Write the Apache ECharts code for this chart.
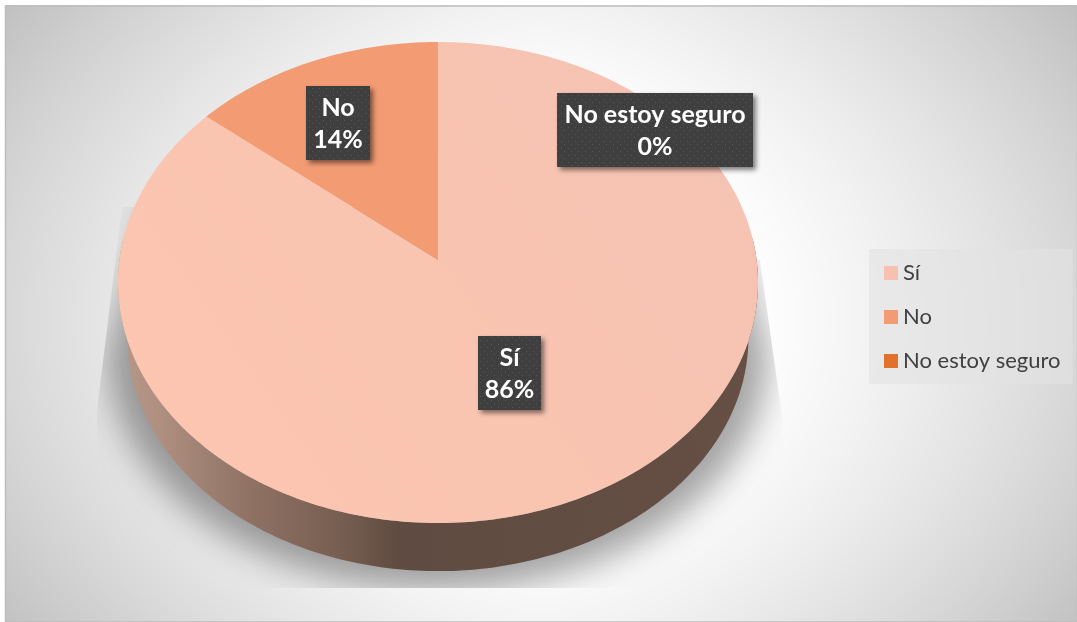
<!DOCTYPE html>
<html>
<head>
<meta charset="utf-8">
<style>html,body{margin:0;padding:0;background:#fff}#chart{width:1077px;height:622px}</style>
<script src="https://cdn.jsdelivr.net/npm/echarts@6/dist/echarts.min.js"></script>
</head>
<body>
<div id="chart"></div>
<script>
// Answers to the survey question
const categories = ['Sí', 'No', 'No estoy seguro'];
const shares = [86, 14, 0];
const sliceColors = ['#f6c1af', '#f39b73', '#e0722c'];

// Tilted-disc projection: a unit circle seen in perspective
const disc = { cx: 438, cy: 260, a: 318.6, b: 238.4, k: -0.0936, rimDrop: 56, rimScale: 0.97 };
const labelBoxes = [
  { cx: 509.5, cy: 373, w: 63, h: 74 },
  { cx: 338, cy: 123, w: 64, h: 74 },
  { cx: 655, cy: 130, w: 196, h: 74 }
];

const total = shares.reduce((s, v) => s + v, 0);

function project(deg) {
  const t = deg * Math.PI / 180;
  const u = Math.sin(t), v = -Math.cos(t), w = 1 + disc.k * v;
  return [disc.a * u / w, disc.b * v / w];
}
function topPoint(deg) {
  const p = project(deg);
  return [disc.cx + p[0], disc.cy + p[1]];
}
function rimPoint(deg) {
  const p = project(deg);
  return [disc.cx + disc.rimScale * p[0], disc.cy + disc.rimDrop + disc.rimScale * p[1]];
}
function arcAngles(from, to) {
  const out = [];
  for (let d = from; d < to; d += 1) out.push(d);
  out.push(to);
  return out;
}

// Fine dot texture used behind the data labels
function dotTexture() {
  const c = document.createElement('canvas');
  c.width = 7; c.height = 7;
  const g = c.getContext('2d');
  g.fillStyle = '#3f3f3f'; g.fillRect(0, 0, 7, 7);
  g.fillStyle = '#565656'; g.fillRect(1, 1, 1, 1); g.fillRect(4, 4, 1, 1);
  return c;
}
const dots = { image: dotTexture(), repeat: 'repeat' };

// Panel backdrop: a soft centre glow, plus the shadow the disc casts on it
function panelBackdrop() {
  const W = 1077, H = 622;
  const c = document.createElement('canvas');
  c.width = W; c.height = H;
  const g = c.getContext('2d');
  const img = g.createImageData(W, H);
  for (let y = 0; y < H; y++) {
    for (let x = 0; x < W; x++) {
      const X = Math.abs(x - 541) / 535, Y = Math.abs(y - 320) / 310;
      const d = Math.max(0, Math.min(1.05, 0.82 * Math.pow(X, 1.6) + 0.375 * Y * Y - 0.175));
      const shade = 255 - 61 * d;
      const o = (y * W + x) * 4;
      img.data[o] = img.data[o + 1] = img.data[o + 2] = shade;
      img.data[o + 3] = 255;
    }
  }
  g.putImageData(img, 0, 0);

  g.save();
  g.beginPath();
  [[122, 207], [438, 207], [760, 260], [782, 416], [782, 588], [97, 588], [97, 410]]
    .forEach((p, i) => (i ? g.lineTo(p[0], p[1]) : g.moveTo(p[0], p[1])));
  g.closePath();
  g.clip();
  const far = 3000;
  g.shadowColor = 'rgba(0,0,0,0.36)';
  g.shadowBlur = 34;
  g.shadowOffsetX = far;
  g.fillStyle = '#000';
  g.beginPath();
  g.moveTo(155 - far, 190);
  g.lineTo(725 - far, 190);
  g.lineTo(768 - far, 352);
  g.ellipse(438 - far, 352, 330, 238, 0, 0, Math.PI);
  g.closePath();
  g.fill();
  g.restore();
  return c;
}

const wallFill = new echarts.graphic.LinearGradient(118, 0, 758, 0, [
  { offset: 0, color: '#b89888' },
  { offset: 0.066, color: '#ae8f80' },
  { offset: 0.206, color: '#8f7264' },
  { offset: 0.347, color: '#775e51' },
  { offset: 0.44, color: '#5f4b41' },
  { offset: 1, color: '#664f45' }
], true);

// The large slice catches the light unevenly across its face
const faceLight = new echarts.graphic.LinearGradient(150, 500, 740, 90, [
  { offset: 0, color: '#fcc6b1' },
  { offset: 0.5, color: '#f9c4b0' },
  { offset: 1, color: '#f5c3b4' }
], true);

function sliceRenderer(idx) {
  return function (params, api) {
    const value = api.value(0);
    const before = shares.slice(0, idx).reduce((s, v) => s + v, 0);
    const start = before / total * 360;
    const end = (before + value) / total * 360;
    const children = [];

    // Visible front wall of the disc
    const tangent = Math.acos(disc.k) * 180 / Math.PI;
    const from = Math.max(start, 180 - tangent);
    const to = Math.min(end, 180 + tangent);
    if (value > 0 && to > from) {
      const arc = arcAngles(from, to);
      children.push({
        type: 'polygon',
        shape: { points: arc.map(topPoint).concat(arc.slice().reverse().map(rimPoint)) },
        style: { fill: wallFill }
      });
    }
    // Top face of the slice
    if (value > 0) {
      const pts = [[disc.cx, disc.cy]].concat(arcAngles(start, end).map(topPoint));
      children.push({
        type: 'polygon',
        shape: { points: pts },
        style: { fill: idx === 0 ? faceLight : api.visual('color') }
      });
    }
    // Data label: name and share
    const box = labelBoxes[idx];
    children.push({
      type: 'rect',
      z2: 20,
      shape: { x: box.cx - box.w / 2, y: box.cy - box.h / 2, width: box.w, height: box.h },
      style: {
        fill: dots,
        shadowBlur: 5, shadowOffsetX: 3, shadowOffsetY: 3, shadowColor: 'rgba(0,0,0,0.5)'
      }
    });
    children.push({
      type: 'text',
      z2: 21,
      style: {
        text: categories[idx] + '\n' + Math.round(value / total * 100) + '%',
        x: box.cx, y: box.cy + 1,
        align: 'center', verticalAlign: 'middle',
        fill: '#ffffff',
        font: 'bold 25px Lato',
        lineHeight: 32
      }
    });
    return { type: 'group', children };
  };
}

const chart = echarts.init(document.getElementById('chart'), null, { renderer: 'canvas' });

chart.setOption({
  animation: false,
  backgroundColor: '#ffffff',
  legend: {
    orient: 'vertical',
    left: 869, top: 249,
    padding: [13, 12, 12, 15],
    backgroundColor: 'rgba(226,226,226,0.6)',
    data: categories,
    icon: 'rect',
    itemWidth: 14, itemHeight: 14, itemGap: 22,
    textStyle: { color: '#404040', fontFamily: 'Lato', fontSize: 22 }
  },
  graphic: [
    {
      type: 'image', z: 0,
      style: { image: panelBackdrop(), x: 0, y: 0, width: 1077, height: 622 }
    },
    {
      // White margin outside the panel, on the top and left
      type: 'rect', z: 0,
      shape: { x: 0, y: 0, width: 1077, height: 5 },
      style: { fill: '#ffffff' }
    },
    {
      type: 'rect', z: 0,
      shape: { x: 0, y: 0, width: 5, height: 622 },
      style: { fill: '#ffffff' }
    },
    {
      type: 'rect', z: 0,
      shape: { x: 5.5, y: 6, width: 1072, height: 616 },
      style: { fill: 'none', stroke: '#bdbdbd', lineWidth: 1.5 }
    }
  ],
  series: categories.map((name, i) => ({
    type: 'custom',
    name,
    z: 2,
    coordinateSystem: 'none',
    itemStyle: { color: sliceColors[i] },
    renderItem: sliceRenderer(i),
    data: [[shares[i]]],
    silent: true
  }))
});
</script>
</body>
</html>
